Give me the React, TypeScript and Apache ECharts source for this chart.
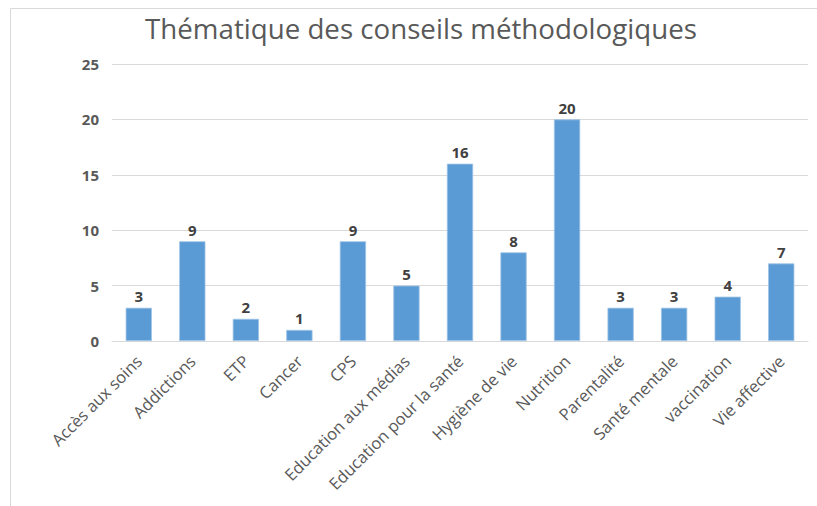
import React, { useEffect, useRef } from "react";
import * as echarts from "echarts";

const categories = [
  "Accès aux soins",
  "Addictions",
  "ETP",
  "Cancer",
  "CPS",
  "Education aux médias",
  "Education pour la santé",
  "Hygiène de vie",
  "Nutrition",
  "Parentalité",
  "Santé mentale",
  "vaccination",
  "Vie affective",
];
const values = [3, 9, 2, 1, 9, 5, 16, 8, 20, 3, 3, 4, 7];
const titleText = "Thématique des conseils méthodologiques";

export default function App() {
  const ref = useRef<HTMLDivElement>(null);
  useEffect(() => {
    document.body.style.margin = "0";
    if (!ref.current) return;
    const chart = echarts.init(ref.current, undefined, { renderer: "svg" });
    const font = "'Open Sans', 'Noto Sans', sans-serif";
    chart.setOption({
      animation: false,
      backgroundColor: "#ffffff",
      graphic: [
        {
          type: "rect",
          shape: { x: 10.5, y: 8.5, width: 1000, height: 1000 },
          style: { fill: "none", stroke: "#d9d9d9", lineWidth: 1 },
          silent: true,
        },
        {
          type: "text",
          x: 421,
          y: 28,
          style: {
            text: titleText,
            align: "center",
            verticalAlign: "middle",
            fontFamily: font,
            fontSize: 27.7,
            fill: "#595959",
          },
          silent: true,
        },
      ],
      grid: { left: 112, right: 9, top: 64, bottom: 165, containLabel: false },
      xAxis: {
        type: "category",
        data: categories,
        axisLine: { show: true, lineStyle: { color: "#d9d9d9", width: 1 } },
        axisTick: { show: false },
        axisLabel: {
          interval: 0,
          rotate: 45,
          margin: 17,
          fontFamily: font,
          fontSize: 16.5,
          color: "#595959",
        },
      },
      yAxis: {
        type: "value",
        min: 0,
        max: 25,
        interval: 5,
        axisLine: { show: false },
        axisTick: { show: false },
        splitLine: { lineStyle: { color: "#d9d9d9", width: 1 } },
        axisLabel: {
          margin: 13,
          fontFamily: font,
          fontSize: 15,
          fontWeight: "bold",
          color: "#595959",
        },
      },
      series: [
        {
          type: "bar",
          data: values,
          barWidth: "49%",
          itemStyle: { color: "#5B9BD5", borderColor: "#9DC3E6", borderWidth: 0.8 },
          label: {
            show: true,
            position: "top",
            distance: 4,
            fontFamily: font,
            fontSize: 15,
            fontWeight: "bold",
            color: "#404040",
          },
        },
      ],
    });
    return () => chart.dispose();
  }, []);
  return <div ref={ref} style={{ width: 817, height: 506 }} />;
}
